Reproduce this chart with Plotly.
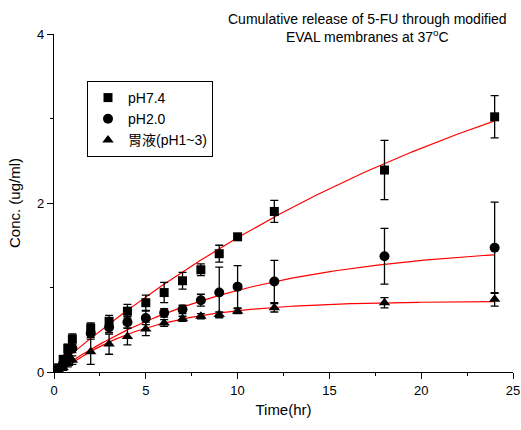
import numpy as np
import plotly.graph_objects as go

# ---- data ----
time_hr = [0.25, 0.5, 0.75, 1, 2, 3, 4, 5, 6, 7, 8, 9, 10, 12, 18, 24]

ph74 = [0.05, 0.15, 0.28, 0.39, 0.52, 0.60, 0.72, 0.82, 0.94, 1.08, 1.21, 1.40, 1.60, 1.90, 2.39, 3.02]
ph74_err = [0.03, 0.04, 0.05, 0.06, 0.06, 0.07, 0.08, 0.09, 0.12, 0.10, 0.07, 0.10, 0.03, 0.13, 0.35, 0.25]

ph20 = [0.03, 0.10, 0.18, 0.28, 0.46, 0.53, 0.59, 0.64, 0.70, 0.74, 0.85, 0.94, 1.01, 1.07, 1.37, 1.47]
ph20_err = [0.02, 0.03, 0.04, 0.05, 0.05, 0.06, 0.07, 0.08, 0.05, 0.05, 0.07, 0.30, 0.25, 0.25, 0.33, 0.54]

gastric = [0.02, 0.05, 0.10, 0.14, 0.24, 0.33, 0.42, 0.51, 0.58, 0.63, 0.66, 0.68, 0.72, 0.76, 0.82, 0.86]
gastric_err = [0.02, 0.03, 0.04, 0.05, 0.15, 0.12, 0.10, 0.08, 0.04, 0.03, 0.03, 0.03, 0.03, 0.05, 0.06, 0.08]

series_names = ["pH7.4", "pH2.0", "胃液(pH1~3)"]
series_symbols = ["square", "circle", "triangle-up"]

# fitted model parameters: y = c + A*(1 - exp(-k*(t - t0)))
fit_params = {
    "pH7.4": dict(c=0.04, A=4.9, k=0.038, t0=0.0),
    "pH2.0": dict(c=0.0, A=1.52, k=0.102, t0=0.1),
    "胃液(pH1~3)": dict(c=0.0, A=0.84, k=0.207, t0=0.35),
}

title_lines = ["Cumulative release of 5-FU through modified", "EVAL membranes at 37<sup>o</sup>C"]

fig = go.Figure()

# fitted curves
for name in series_names:
    p = fit_params[name]
    t = np.linspace(p["t0"], 24, 200)
    y = p["c"] + p["A"] * (1 - np.exp(-p["k"] * (t - p["t0"])))
    fig.add_trace(go.Scatter(x=t, y=y, mode="lines", line=dict(color="red", width=1.2),
                             showlegend=False, hoverinfo="skip"))

for name, vals, errs, sym, size in zip(series_names, [ph74, ph20, gastric],
                                       [ph74_err, ph20_err, gastric_err], series_symbols, [9, 10, 10]):
    fig.add_trace(go.Scatter(
        x=time_hr, y=vals, mode="markers", name=name,
        marker=dict(symbol=sym, color="black", size=size),
        error_y=dict(type="data", array=errs, visible=True, color="black", thickness=1.3, width=4),
    ))

fig.update_layout(
    width=521, height=430,
    margin=dict(l=54, r=8, t=34, b=58, autoexpand=False),
    paper_bgcolor="white", plot_bgcolor="white",
    font=dict(family="Liberation Sans, Arial, Noto Sans CJK TC", size=13, color="black"),
    legend=dict(x=(87 - 54) / 459, y=(372 - 81) / 338, xanchor="left", yanchor="top",
                bordercolor="black", borderwidth=1, bgcolor="white",
                font=dict(size=14, family="Liberation Sans, Noto Sans CJK TC"),
                tracegroupgap=0, itemwidth=30),
    showlegend=True,
)
fig.update_xaxes(range=[0, 25], tickvals=[0, 5, 10, 15, 20, 25], ticks="outside", ticklen=6,
                 tickcolor="black", showline=True, linecolor="black", linewidth=1.2,
                 showgrid=False, zeroline=False, automargin=False,
                 minor=dict(tickvals=[2.5, 7.5, 12.5, 17.5, 22.5], ticks="outside", ticklen=3, tickcolor="black"),
                 title=dict(text="Time(hr)", font=dict(size=15), standoff=7))
fig.update_yaxes(range=[0, 4], tickvals=[0, 2, 4], ticks="outside", ticklen=6,
                 tickcolor="black", showline=True, linecolor="black", linewidth=1.2,
                 showgrid=False, zeroline=False, automargin=False,
                 minor=dict(tickvals=[1, 3], ticks="outside", ticklen=3, tickcolor="black"),
                 title=dict(text="Conc. (ug/ml)", font=dict(size=15), standoff=12))

fig.add_annotation(text="<br>".join(title_lines), xref="paper", yref="paper",
                   x=(367 - 54) / 459, y=(372 - 9) / 338, xanchor="center", yanchor="top",
                   showarrow=False, font=dict(size=14), align="center")

fig.write_html("out.html", config={"displayModeBar": False},
               post_script="document.body.style.margin='0';document.body.style.overflow='hidden';")
